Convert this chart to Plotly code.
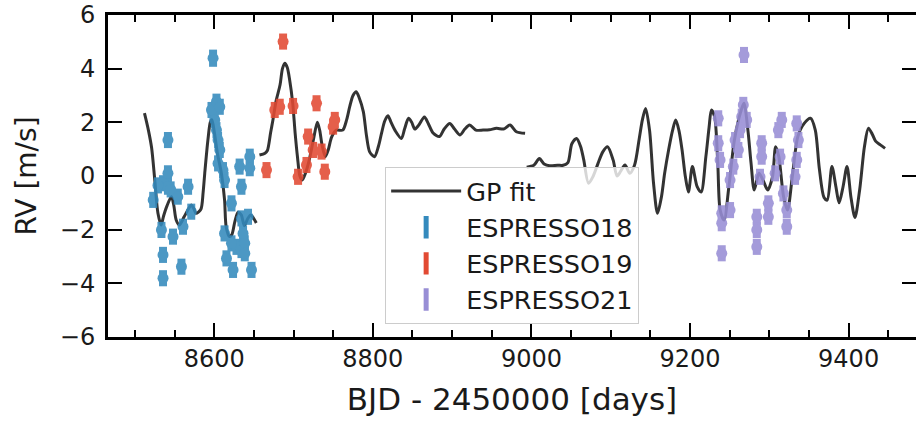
import plotly.graph_objects as go

# ---------------- data ----------------
e18_x = [8598.5, 8541.6, 8523, 8535.4, 8541.6, 8541.6, 8533.4, 8535.4, 8535.4, 8548,
         8560.6, 8558.6, 8554, 8567, 8571, 8596.5, 8602.8, 8607, 8600.6, 8602.8,
         8604.8, 8607, 8604.8, 8611, 8613, 8621.7, 8613, 8615.4, 8623.7, 8628,
         8634.3, 8638.5, 8636.3, 8634.3, 8634.3, 8632, 8644.8, 8644.8, 8642.6, 8638.5,
         8647, 8621.7, 8529, 8545]
e18_y = [4.39, 1.34, -0.89, -0.27, 0.10, -0.40, -2.01, -2.94, -3.81, -2.26,
         -1.89, -3.38, -0.77, -0.40, -1.33, 2.46, 2.77, 2.58, 2.09, 1.71,
         1.34, 0.97, 0.47, 0.22, -0.15, -1.02, -2.14, -3.07, -3.50, -2.64,
         -2.76, -2.51, -2.14, -1.58, -0.40, 0.35, 0.72, 0.29, -1.52, -2.88,
         -3.50, -2.51, -0.35, -0.5]
e18_err = [0.32, 0.3, 0.3, 0.3, 0.3, 0.3, 0.3, 0.3, 0.3, 0.3,
           0.3, 0.3, 0.3, 0.3, 0.3, 0.3, 0.3, 0.3, 0.3, 0.3,
           0.3, 0.3, 0.3, 0.3, 0.3, 0.3, 0.3, 0.3, 0.3, 0.3,
           0.3, 0.3, 0.3, 0.3, 0.3, 0.3, 0.3, 0.3, 0.3, 0.3,
           0.3, 0.3, 0.3, 0.3]

e19_x = [8686.8, 8665.9, 8676.3, 8682.6, 8699.4, 8705.7, 8716.3, 8718.4, 8724.7, 8729,
         8735.3, 8739.4, 8752, 8749.9]
e19_y = [5.01, 0.22, 2.46, 2.58, 2.61, -0.03, 0.41, 1.47, 0.97, 2.71,
         0.91, 0.16, 2.09, 1.84]
e19_err = [0.3, 0.3, 0.3, 0.3, 0.3, 0.3, 0.3, 0.3, 0.3, 0.3,
           0.3, 0.3, 0.3, 0.3]

e21_x = [9268.1, 9240, 9235.6, 9235.6, 9237.9, 9240, 9240, 9250.5, 9250.5, 9254.6,
         9256.8, 9261, 9263.1, 9265.2, 9267.2, 9271.5, 9284.2, 9284.2, 9284.2, 9288.3,
         9290.4, 9290.4, 9298.8, 9298.8, 9307.3, 9311.4, 9315.7, 9313.6, 9317.8, 9322,
         9322, 9334.6, 9336.7, 9334.6, 9332.5]
e21_y = [4.51, -2.88, 2.15, 1.22, 0.60, -1.39, -1.76, -0.15, -1.27, 0.35,
         1.34, 0.97, 1.71, 2.21, 2.65, 2.09, -1.52, -2.01, -2.64, -0.03,
         1.22, 0.72, -1.02, -1.52, 0.10, 1.71, 2.09, 0.72, -0.65, -1.27,
         -1.89, 1.96, 1.34, 0.60, -0.03]
e21_err = [0.3, 0.3, 0.3, 0.3, 0.3, 0.3, 0.3, 0.3, 0.3, 0.3,
           0.3, 0.3, 0.3, 0.3, 0.3, 0.3, 0.3, 0.3, 0.3, 0.3,
           0.3, 0.3, 0.3, 0.3, 0.3, 0.3, 0.3, 0.3, 0.3, 0.3,
           0.3, 0.3, 0.3, 0.3, 0.3]

gp_x = [8512, 8517, 8521, 8525, 8529, 8533, 8536, 8540, 8546, 8549, 8552, 8556, 8562, 8568,
        8571, 8574, 8577, 8583, 8586, 8588, 8592, 8595, 8597, 8600, 8604, 8609, 8613, 8615,
        8619, 8622, 8626, 8630, 8634, 8638, 8642, 8646, 8649, 8653,
        None,
        8657, 8664, 8667, 8671, 8674, 8678, 8683, 8686, 8689, 8692, 8695, 8699, 8702, 8705,
        8708, 8711, 8715, 8719, 8725, 8730, 8733, 8736, 8740, 8744, 8748, 8754, 8762, 8767,
        8771, 8775, 8779, 8783, 8788, 8792, 8796, 8802, 8807, 8811, 8815, 8819, 8823, 8828,
        8836, 8840, 8845, 8849, 8853, 8858, 8865, 8870, 8876, 8884, 8890, 8897, 8903, 8910,
        8916, 8922, 8930, 8939, 8947, 8956, 8965, 8973, 8981, 8992,
        None,
        8994, 9003, 9010, 9016, 9023, 9033, 9040, 9046, 9051, 9057, 9062, 9066, 9072, 9078,
        9084, 9090, 9096, 9103, 9108, 9113, 9118, 9124, 9130, 9136, 9140, 9144, 9149, 9154,
        9159, 9164, 9168, 9173, 9178, 9182, 9186, 9190, 9194, 9198, 9203, 9209, 9214, 9220,
        9224, 9227, 9231, 9235, 9238, 9243, 9249, 9256, 9264, 9268, 9273, 9277, 9281, 9287,
        9292, 9298, 9304, 9308, 9312, 9318, 9323, 9329, 9336, 9344, 9352, 9358, 9363, 9369,
        9373, 9379, 9384, 9388, 9393, 9398, 9403, 9408, 9414, 9420, 9425, 9430, 9434, 9440,
        9446]
gp_y = [2.34, 1.7, 1.05, -0.15, -1.39, -1.83, -1.5, -1.14, -0.77, -1.1, -1.64, -1.83, -1.52, -1.2,
        -1.08, -1.2, -1.39, -1.25, -0.6, 0.10, 1.34, 2.0, 2.1, 1.65, 0.85, 0.10, -0.89, -1.89,
        -2.25, -2.2, -1.7, -1.35, -1.45, -1.85, -1.6, -1.45, -1.55, -1.75,
        None,
        0.78, 0.85, 0.95, 1.6, 2.09, 2.8, 3.4, 4.0, 4.2, 4.05, 3.6, 2.7, 1.6, 0.7,
        0.0, -0.15, 0.1, 0.5, 1.34, 2.0, 1.7, 1.15, 0.72, 1.0, 1.45, 1.71, 1.71, 2.1,
        2.6, 3.0, 3.14, 2.9, 2.4, 1.5, 0.9, 0.72, 1.1, 1.6, 2.05, 2.25, 2.0, 1.7,
        1.4, 1.75, 2.15, 2.0, 1.75, 1.9, 2.2, 1.95, 1.6, 1.47, 1.75, 1.96, 1.75, 1.53,
        1.75, 1.9, 1.71, 1.71, 1.72, 1.78, 1.75, 1.9, 1.65, 1.59,
        None,
        0.33, 0.4, 0.65, 0.45, 0.38, 0.4, 0.4, 0.5, 1.2, 1.40, 1.1, 0.6, -0.27, 0.0,
        0.47, 0.9, 1.09, 0.6, 0.0, 0.2, 0.41, 0.10, 0.4, 1.4, 2.1, 2.52, 1.7, -0.27,
        -1.39, -0.77, 0.1, 0.97, 1.7, 2.09, 1.7, 0.97, 0.0, -0.6, 0.35, -0.4, -0.6, 0.72,
        1.8, 2.46, 2.21, 0.47, -1.27, -1.64, -0.40, 1.34, 2.40, 2.71, 1.71, 0.47, -0.52, 0.10,
        -0.15, -0.52, -0.03, 1.09, 0.72, -0.77, -1.27, -0.03, 1.47, 1.96, 2.15, 1.71, 0.3, -0.8,
        -0.9, 0.35, -0.4, -1.0, -0.4, 0.35, -0.8, -1.55, -0.5, 1.1, 1.78, 1.55, 1.3, 1.16,
        1.03]

series = [
    ("ESPRESSO18", e18_x, e18_y, e18_err, "#348ABD"),
    ("ESPRESSO19", e19_x, e19_y, e19_err, "#E24A33"),
    ("ESPRESSO21", e21_x, e21_y, e21_err, "#988ED5"),
]

FONT = "DejaVu Sans"
TXT = "#1a1a1a"

fig = go.Figure()
fig.add_trace(go.Scatter(
    x=gp_x, y=gp_y, mode="lines", name="GP fit",
    line=dict(color="rgba(0,0,0,0.8)", width=3, shape="spline", smoothing=0.8),
    connectgaps=False))

for name, xs, ys, err, col in series:
    fig.add_trace(go.Scatter(
        x=xs, y=ys, mode="markers", name=name, showlegend=False, opacity=0.88,
        marker=dict(color=col, size=11, symbol="circle"),
        error_y=dict(type="data", array=err, thickness=8, width=0, color=col)))

for name, xs, ys, err, col in series:
    fig.add_trace(go.Scatter(
        x=[None], y=[None], mode="markers", name=name,
        marker=dict(symbol="line-ns-open", size=28, color=col,
                    line=dict(width=8, color=col))))

# invisible trace to carry the right-hand tick axis
fig.add_trace(go.Scatter(x=[None], y=[None], yaxis="y2", showlegend=False, hoverinfo="skip"))

fig.update_layout(
    width=916, height=421,
    margin=dict(l=108, r=0, t=15, b=84),
    paper_bgcolor="white", plot_bgcolor="white",
    font=dict(family=FONT, size=24, color=TXT),
    showlegend=True,
    legend=dict(x=0.343, y=0.528, xanchor="left", yanchor="top",
                bgcolor="rgba(255,255,255,0.8)", bordercolor="#cccccc", borderwidth=1,
                font=dict(family=FONT, size=25.5, color=TXT),
                itemwidth=70),
    xaxis=dict(range=[8466, 9485], showgrid=False, zeroline=False,
               showline=True, linecolor="black", linewidth=3, mirror="ticks",
               ticks="inside", ticklen=14, tickwidth=2, tickcolor="black",
               tick0=0, dtick=200, ticklabelstandoff=-2,
               minor=dict(ticks="inside", ticklen=7, tickwidth=1.5, tickcolor="black", dtick=50, tick0=0),
               tickfont=dict(family=FONT, size=24, color=TXT),
               title=dict(text="BJD - 2450000 [days]", font=dict(family=FONT, size=31, color=TXT), standoff=17)),
    yaxis=dict(range=[-6, 6], showgrid=False, zeroline=False,
               showline=True, linecolor="black", linewidth=3,
               ticks="inside", ticklen=14, tickwidth=2, tickcolor="black",
               tick0=0, dtick=2, ticklabelstandoff=5,
               tickfont=dict(family=FONT, size=24, color=TXT),
               title=dict(text="RV [m/s]", font=dict(family=FONT, size=28, color=TXT), standoff=16)),
    yaxis2=dict(range=[-6, 6], overlaying="y", side="right", showgrid=False, zeroline=False,
                showline=False, ticks="inside", ticklen=14, tickwidth=2, tickcolor="black",
                tick0=0, dtick=2, showticklabels=False),
)

fig.write_html("out.html")
